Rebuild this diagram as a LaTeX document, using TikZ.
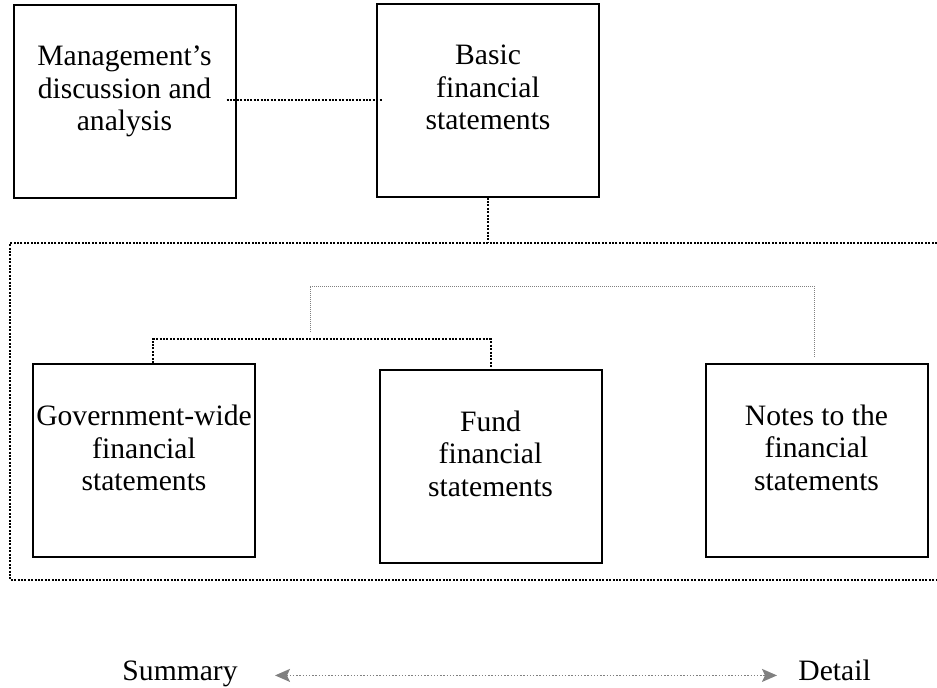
\documentclass[tikz,border=0pt]{standalone}
\usepackage{fontspec}
\setmainfont{Liberation Serif}
\usetikzlibrary{positioning,arrows.meta}

\begin{document}
\begin{tikzpicture}[x=0.5pt,y=-0.5pt,
    box/.style={draw,line width=1pt,minimum width=111pt,minimum height=96.5pt,
      inner xsep=1pt,align=center,text depth=12.5pt,
      font=\fontsize{14.8}{16.25}\selectfont},
    lbl/.style={inner sep=0pt,font=\fontsize{14.8}{16.25}\selectfont},
    link/.style={line width=1pt,dash pattern=on 1pt off 0.7pt},
    thin link/.style={gray,line width=0.5pt,dash pattern=on 0.5pt off 0.5pt},
    spanarrow/.style={gray,line width=0.7pt,dash pattern=on 0.7pt off 0.9pt,
      >={Stealth[length=7.5pt,width=6.5pt,inset=1.5pt]}}]
  \useasboundingbox (0,0) rectangle (937,687);

  % top row
  \node[box] (mda) at (124.5,101) {Management's\\discussion and\\analysis};
  \node[box] (bfs) at (488,100) {Basic\\financial\\statements};

  % statements row
  \node[box] (gw) at (144,460.5) {Government-wide\\financial\\statements};
  \node[box] (fund) at (490.5,466) {Fund\\financial\\statements};
  \node[box] (notes) at (816.5,460) {Notes to the\\financial\\statements};

  % frame round the basic statements
  \coordinate (ftl) at (10,243);
  \coordinate (fbl) at (10,580);
  \draw[link] (937,243) -- (ftl) -- (fbl) -- (937,580);

  \draw[link] ([xshift=-5pt]mda.east |- bfs.west) -- ([xshift=3pt]bfs.west);
  \draw[link] (bfs.south) -- (bfs.south |- ftl);

  \draw[link] ([xshift=4.5pt]gw.north) -- ++(0,-24) -| (fund.north);
  \coordinate (split) at (310,332);
  \draw[thin link] (split) -- ++(0,-46) -| ([shift={(-1.25pt,3pt)}]notes.north);

  % summary / detail scale
  \node[lbl,anchor=base east] (sum) at (238,680) {Summary};
  \node[lbl,anchor=base west] (det) at (798,680) {Detail};
  \draw[spanarrow,<->] ([xshift=18.5pt]sum.mid east) -- ([xshift=-10.5pt]det.mid west);
\end{tikzpicture}
\end{document}
